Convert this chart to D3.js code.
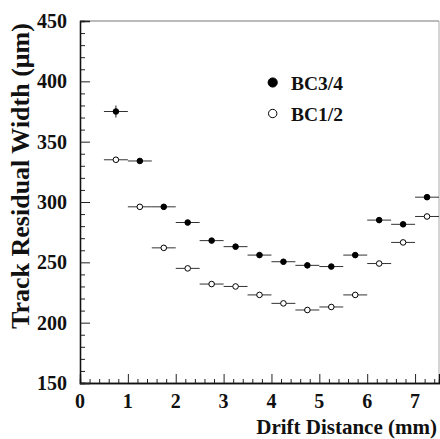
<!DOCTYPE html>
<html>
<head>
<meta charset="utf-8">
<script src="https://cdn.jsdelivr.net/npm/d3@7"></script>
<style>
  html, body { margin: 0; padding: 0; background: #fff; }
  svg { display: block; }
  text { font-family: "Liberation Serif", "Times New Roman", serif; font-weight: bold; fill: #111; }
</style>
</head>
<body>
<svg id="chart" width="440" height="439"></svg>
<script>
// ---- data ----
const driftCenters = [0.75, 1.25, 1.75, 2.25, 2.75, 3.25, 3.75, 4.25, 4.75, 5.25, 5.75, 6.25, 6.75, 7.25];
const binHalfWidth = [0.25, 0.25, 0.25, 0.25, 0.25, 0.25, 0.25, 0.25, 0.25, 0.25, 0.25, 0.25, 0.25, 0.25];
const bc34 = [375, 334, 296, 283, 268, 263, 256, 250.5, 247.5, 246.5, 256, 285, 281.5, 304];
const bc34Err = [5, 2, 2, 2, 2, 2, 2, 2, 2, 2, 2, 2, 2, 2];
const bc12 = [335, 296, 262, 245, 232, 230, 223, 216, 210.5, 213, 223, 249, 266.5, 288];
const bc12Err = [2, 2, 2, 2, 2, 2, 2, 2, 2, 2, 2, 2, 2, 2];
const xTickValues = [0, 1, 2, 3, 4, 5, 6, 7];
const yTickValues = [150, 200, 250, 300, 350, 400, 450];
const legendLabels = ["BC3/4", "BC1/2"];
const xTitle = "Drift Distance (mm)";
const yTitle = "Track Residual Width (μm)";

// ---- layout ----
const L = 80, R = 439, T = 21, B = 383;
const svg = d3.select("#chart");
const x = d3.scaleLinear().domain([0, 7.5]).range([L, R]);
const y = d3.scaleLinear().domain([150, 450]).range([B, T]);

// frame (top/right faint)
svg.append("line").attr("x1", L).attr("x2", R).attr("y1", T).attr("y2", T)
  .attr("stroke", "#777").attr("stroke-width", 1);
svg.append("line").attr("x1", R).attr("x2", R).attr("y1", T).attr("y2", B)
  .attr("stroke", "#aaa").attr("stroke-width", 1);

// minor ticks
const xMinor = d3.range(0, 7.5001, 0.2).filter(v => Math.abs(v - Math.round(v)) > 1e-6);
const yMinor = d3.range(150, 450.001, 10).filter(v => v % 50 !== 0);

const xAxisMinor = d3.axisTop(x).tickValues(xMinor).tickSize(4).tickFormat("");
const xAxisMajor = d3.axisTop(x).tickValues(xTickValues).tickSize(9).tickFormat("");
const yAxisMinor = d3.axisRight(y).tickValues(yMinor).tickSize(5).tickFormat("");
const yAxisMajor = d3.axisRight(y).tickValues(yTickValues).tickSize(10).tickFormat("");

function styleAxis(g) {
  g.selectAll("path.domain").attr("stroke", "#111").attr("stroke-width", 1.3);
  g.selectAll(".tick line").attr("stroke", "#222").attr("stroke-width", 1);
}
svg.append("g").attr("transform", `translate(0,${B})`).call(xAxisMinor).call(styleAxis);
svg.append("g").attr("transform", `translate(0,${B})`).call(xAxisMajor).call(styleAxis);
svg.append("g").attr("transform", `translate(${L},0)`).call(yAxisMinor).call(styleAxis);
svg.append("g").attr("transform", `translate(${L},0)`).call(yAxisMajor).call(styleAxis);

// tick labels
svg.append("g").selectAll("text").data(xTickValues).join("text")
  .attr("x", d => x(d)).attr("y", 408)
  .attr("text-anchor", "middle").attr("font-size", 20)
  .text(d => d);
svg.append("g").selectAll("text").data(yTickValues).join("text")
  .attr("x", 67).attr("y", d => y(d) + 7)
  .attr("text-anchor", "end").attr("font-size", 20)
  .text(d => d);

// titles
svg.append("text").attr("x", 437).attr("y", 434).attr("text-anchor", "end")
  .attr("font-size", 21).text(xTitle);
svg.append("text").attr("transform", "translate(29,176) rotate(-90)")
  .attr("text-anchor", "middle").attr("font-size", 26).text(yTitle);

// data series
function drawSeries(vals, errs, filled) {
  const g = svg.append("g");
  const pts = driftCenters.map((c, i) => ({ c, v: vals[i], e: errs[i], h: binHalfWidth[i] }));
  g.selectAll("line.h").data(pts).join("line").attr("class", "h")
    .attr("x1", d => x(d.c - d.h)).attr("x2", d => x(d.c + d.h))
    .attr("y1", d => y(d.v)).attr("y2", d => y(d.v))
    .attr("stroke", "#333").attr("stroke-width", 1);
  g.selectAll("line.v").data(pts).join("line").attr("class", "v")
    .attr("x1", d => x(d.c)).attr("x2", d => x(d.c))
    .attr("y1", d => y(d.v - d.e)).attr("y2", d => y(d.v + d.e))
    .attr("stroke", "#222").attr("stroke-width", 1);
  g.selectAll("circle").data(pts).join("circle")
    .attr("cx", d => x(d.c)).attr("cy", d => y(d.v)).attr("r", 2.8)
    .attr("fill", filled ? "#000" : "#fff")
    .attr("stroke", "#000").attr("stroke-width", 1);
}
drawSeries(bc12, bc12Err, false);
drawSeries(bc34, bc34Err, true);

// legend
const leg = svg.append("g");
legendLabels.forEach((lab, i) => {
  const cy = 82.5 + i * 31;
  leg.append("circle").attr("cx", 272.7).attr("cy", cy).attr("r", i === 0 ? 4.6 : 4.2)
    .attr("fill", i === 0 ? "#000" : "#fff").attr("stroke", "#000").attr("stroke-width", 1);
  leg.append("text").attr("x", 291).attr("y", cy + 7.5).attr("font-size", 19.5).text(lab);
});
</script>
</body>
</html>
